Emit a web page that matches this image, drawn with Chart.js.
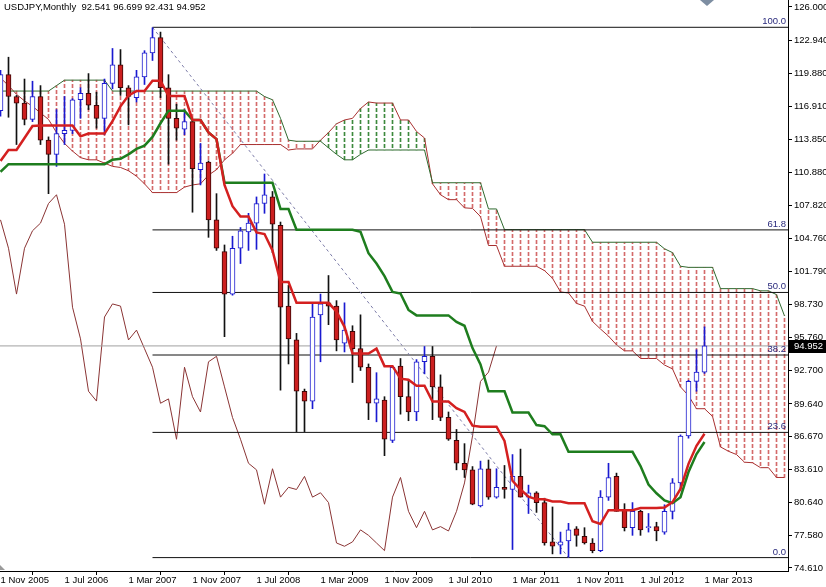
<!DOCTYPE html>
<html>
<head>
<meta charset="utf-8">
<title>USDJPY Monthly</title>
<script src="https://cdn.jsdelivr.net/npm/chart.js@4.4.1/dist/chart.umd.min.js"></script>
<style>
  html, body { margin: 0; padding: 0; background: #fff; }
  canvas { display: block; }
</style>
</head>
<body>
<canvas id="chart" width="826" height="587"></canvas>
<script>
// monthly candles, Nov 2005 .. Mar 2013 (index 0..88)
const opens = [116.5,119.8,117.8,117.2,115.7,117.8,113.8,112.5,114.4,114.7,117.5,118.1,117.0,115.8,119.0,120.7,118.6,117.7,119.6,121.8,
  123.2,118.6,115.8,114.8,115.5,111.1,111.8,106.5,103.6,99.7,103.9,105.4,106.2,108.0,108.6,106.0,98.6,95.5,90.8,89.9,
  97.8,98.9,98.6,95.2,96.3,94.7,93.0,89.7,90.0,86.3,93.1,90.3,88.9,93.5,94.0,91.2,88.4,86.3,84.2,83.6,
  80.3,83.7,81.1,82.0,81.8,83.0,81.1,81.5,80.6,77.0,76.7,77.1,78.2,77.5,76.9,76.2,81.1,83.0,79.9,78.3,
  79.8,78.3,78.4,77.9,79.8,82.4,86.7,91.7,92.541];
const highs = [120.2,121.4,117.9,119.4,119.2,118.8,114.1,116.6,117.8,117.6,118.6,119.9,118.2,119.4,122.2,122.1,118.8,120.2,122.0,124.1,
  123.7,119.8,117.1,116.6,115.6,113.5,111.9,108.9,104.2,105.0,105.8,107.1,108.6,110.7,109.1,106.3,100.5,96.1,91.0,98.8,
  99.7,101.4,99.1,98.9,96.8,97.8,93.3,92.5,90.3,93.1,93.8,91.8,93.7,94.9,94.9,92.3,88.9,87.3,86.0,83.9,
  84.4,84.5,83.7,84.0,85.0,85.5,82.2,81.6,81.0,80.2,77.9,78.7,78.4,78.3,77.3,81.7,84.2,83.3,80.5,80.6,
  79.9,79.6,78.8,80.4,82.8,86.8,91.8,94.6,96.699];
const lows = [116.0,115.9,113.4,115.2,115.5,113.4,108.9,111.4,113.4,114.4,115.8,116.6,114.9,114.3,118.5,117.9,115.2,117.3,118.9,121.1,
  117.7,111.6,113.8,114.3,107.2,109.7,104.9,103.7,95.8,99.6,102.5,103.7,103.8,107.1,103.5,90.9,93.3,87.1,87.1,89.2,
  93.5,96.9,94.5,94.4,91.6,92.7,88.2,88.0,84.9,86.1,88.7,88.1,88.1,92.4,88.2,88.1,86.3,83.6,82.9,80.4,
  80.2,80.9,81.0,81.0,76.3,81.1,79.6,79.7,76.7,75.9,75.9,75.6,76.6,76.8,76.0,76.1,80.8,79.8,78.0,77.6,
  77.6,77.9,77.1,77.7,79.1,81.7,86.5,90.8,92.431];
const closes = [119.8,117.8,117.2,115.7,117.8,113.8,112.5,114.4,114.7,117.5,118.1,117.0,115.8,119.0,120.7,118.6,117.8,119.6,121.8,123.2,
  118.6,115.8,114.9,115.5,111.2,111.7,106.5,103.9,99.7,103.9,105.5,106.2,108.0,108.8,106.1,98.5,95.6,90.8,89.9,97.6,
  98.8,98.6,95.5,96.4,94.7,93.0,89.7,90.1,86.4,93.0,90.3,88.9,93.5,94.0,91.2,88.4,86.4,84.2,83.6,80.45,
  83.7,81.1,82.0,81.8,83.0,81.1,81.5,80.6,76.9,76.6,77.0,78.1,77.6,76.9,76.2,81.1,82.9,79.8,78.3,79.8,
  78.1,78.4,78.0,79.8,82.4,86.7,91.7,92.55,94.952];

// ichimoku lines
const tenkan = [111.9,112.9,112.9,114.0,115.1,115.15,115.15,115.15,115.15,115.15,114.15,114.4,114.4,114.4,115.55,116.9,117.9,118.3,118.3,119.25,
  119.25,117.85,117.85,117.85,115.65,115.65,114.5,113.9,109.7,107.75,106.8,106.8,105.35,105.2,103.7,100.8,100.8,98.9,98.9,98.9,
  98.9,98.9,98.1,96.7,94.25,94.25,94.25,94.7,93.1,93.1,91.95,91.85,91.3,91.3,89.85,89.85,89.85,89.25,88.9,87.65,
  87.55,87.55,87.55,86.25,82.6,81.8,81.15,80.9,80.9,80.7,80.7,80.55,80.55,80.55,78.9,78.65,79.9,79.9,79.9,79.9,
  80.1,80.1,80.1,80.15,80.65,81.85,84.15,85.8,86.9];
const kijun = [110.9,111.6,111.6,111.6,111.6,111.6,111.6,111.6,111.6,111.6,111.6,111.6,111.6,111.6,112.0,112.1,112.5,113.0,113.3,114.1,
  115.35,116.5,116.5,116.5,115.65,115.65,114.5,113.9,109.9,109.9,109.9,109.9,109.9,109.9,109.9,107.5,107.5,105.6,105.6,105.6,
  105.6,105.6,105.6,105.6,105.6,105.4,103.45,102.5,101.35,99.9,99.75,98.25,97.75,97.75,97.75,97.75,97.75,97.15,96.8,94.75,
  93.25,90.8,90.8,90.8,88.85,88.85,88.85,87.7,87.6,86.85,86.85,85.25,85.25,85.25,85.25,85.25,85.25,85.25,85.25,85.25,
  83.95,82.25,81.45,80.8,80.55,81.1,83.4,85.05,86.15];
// cloud, index 0..98 (runs 10 months past the last candle)
const spanA = [119.5,118.8,118.0,117.4,116.9,116.3,115.7,114.5,113.5,112.8,112.2,112.0,112.0,111.7,111.4,111.3,111.0,110.5,109.8,109.0,
  109.0,109.0,109.0,109.5,109.7,109.8,110.6,111.1,112.0,112.6,113.4,113.4,113.4,113.4,113.4,113.4,112.9,113.0,113.0,113.0,
  113.8,114.5,115.3,115.65,115.8,116.7,117.3,117.2,117.2,117.2,115.65,115.65,114.6,114.0,109.8,108.8,108.35,108.35,107.6,107.55,
  106.8,104.15,104.15,102.25,102.25,102.25,102.25,102.25,101.85,101.15,99.9,99.8,98.85,98.6,97.2,96.5,95.85,95.05,94.5,94.5,
  93.8,93.8,93.8,93.2,92.85,91.2,90.4,89.2,89.2,88.5,85.7,85.3,85.0,84.3,84.25,83.8,83.8,82.9,82.9];
const spanB = [118.3,118.3,118.3,118.3,118.3,118.3,118.3,118.8,119.3,119.3,119.3,119.3,119.3,119.3,118.3,118.3,118.3,118.3,118.3,118.3,
  118.3,118.3,118.3,118.3,118.3,118.3,118.3,118.3,118.3,118.3,118.3,118.3,118.3,117.8,117.5,115.8,113.8,113.7,113.7,113.7,
  113.7,113.1,112.5,112.0,112.0,112.5,112.9,112.9,112.9,112.9,112.9,112.9,112.9,112.9,109.9,109.9,109.9,109.9,109.9,109.9,
  109.9,107.5,107.5,105.6,105.6,105.6,105.6,105.6,105.6,105.6,105.6,105.6,105.6,105.6,104.45,104.45,104.45,104.45,104.45,104.45,
  104.45,104.45,104.45,103.85,103.5,102.25,102.15,102.15,102.15,102.15,100.2,100.2,100.2,100.2,100.2,100.0,100.0,99.65,97.7];

const fibPrices = [124.14, 105.58, 99.85, 94.12, 87.03, 75.56];
const fibLabels = ['100.0', '61.8', '50.0', '38.2', '23.6', '0.0'];
const fibFrom = 19, fibTo = 71;   // Jun 2007 high -> Oct 2011 low

const xTickIdx = [0, 8, 16, 24, 32, 40, 48, 56, 64, 72, 80, 88];
const xTickLabels = ['1 Nov 2005', '1 Jul 2006', '1 Mar 2007', '1 Nov 2007', '1 Jul 2008', '1 Mar 2009',
  '1 Nov 2009', '1 Jul 2010', '1 Mar 2011', '1 Nov 2011', '1 Jul 2012', '1 Mar 2013'];
const yTickVals = [126.000, 122.940, 119.880, 116.910, 113.850, 110.880, 107.820, 104.760, 101.790,
  98.730, 95.760, 92.700, 89.640, 86.670, 83.610, 80.640, 77.580, 74.610];

const xMin = -0.0625, xMax = 98.4375;
const yMin = 74.333, yMax = 126.641;
const last = closes.length - 1;
const FONT = '"Liberation Sans", Arial, sans-serif';

const canvas = document.getElementById('chart');
const ctx = canvas.getContext('2d');

// vertical dashed hatch as a fill pattern for 1px bars
function dashPattern(color) {
  const c = document.createElement('canvas');
  c.width = 1; c.height = 6;
  const g = c.getContext('2d');
  g.fillStyle = color;
  g.fillRect(0, 0, 1, 4);
  return ctx.createPattern(c, 'repeat');
}
const redHatch = dashPattern('#d46a6a');
const greenHatch = dashPattern('#3d8a3d');

const pts = (arr, shift = 0) => arr.map((v, i) => ({ x: i + shift, y: v }));
const bull = closes.map((c, i) => c >= opens[i]);

const lineSet = (label, data, color, width, order, extra = {}) => Object.assign({
  type: 'line', label, data, borderColor: color, borderWidth: width,
  pointRadius: 0, tension: 0, fill: false, order
}, extra);

const datasets = [];

// kumo hatching
datasets.push({
  type: 'bar', label: 'kumo',
  data: spanA.map((a, j) => ({ x: j, y: [Math.min(a, spanB[j]), Math.max(a, spanB[j])] })),
  backgroundColor: spanA.map((a, j) => a < spanB[j] ? redHatch : greenHatch),
  barThickness: 1, grouped: false, order: 30
});
datasets.push(lineSet('Senkou A', pts(spanA), '#a83030', 1, 29));
datasets.push(lineSet('Senkou B', pts(spanB), '#2f6a2f', 1, 28));
// chikou: close shifted back 26 months
datasets.push(lineSet('Chikou', closes.slice(26).map((c, i) => ({ x: i, y: c })), '#8a3434', 1, 27));

// fibo lines
fibPrices.forEach((p, k) => {
  datasets.push(lineSet('fib ' + fibLabels[k], [{ x: fibFrom, y: p }, { x: xMax + 1, y: p }], '#111', 1, 26));
});
datasets.push(lineSet('fib trend', [{ x: fibFrom, y: fibPrices[0] }, { x: fibTo, y: fibPrices[5] }],
  '#7c7ca8', 1, 25, { borderDash: [3, 3] }));
// last price line
datasets.push(lineSet('bid', [{ x: xMin - 1, y: closes[last] }, { x: xMax + 1, y: closes[last] }], '#a0a0a0', 1, 24));

// candles
datasets.push({
  type: 'bar', label: 'wicks',
  data: highs.map((h, i) => ({ x: i, y: [lows[i], h] })),
  backgroundColor: bull.map(b => b ? '#1a1ad0' : '#111'),
  barThickness: 1, grouped: false, order: 11
});
datasets.push({
  type: 'bar', label: 'bodies',
  data: opens.map((o, i) => ({ x: i, y: [o, closes[i]] })),
  backgroundColor: bull.map(b => b ? '#ffffff' : '#cc1f1f'),
  borderColor: bull.map(b => b ? '#1a1ad0' : '#3a0606'),
  borderWidth: 1, borderSkipped: false, minBarLength: 1,
  barThickness: 5, grouped: false, order: 10
});

datasets.push(lineSet('Kijun', pts(kijun), '#1e7d1e', 2.5, 2));
datasets.push(lineSet('Tenkan', pts(tenkan), '#d42020', 2.5, 1));

const overlay = {
  id: 'overlay',
  afterDatasetsDraw(chart) {
    const c = chart.ctx, y = chart.scales.y, area = chart.chartArea;
    c.save();
    c.font = '9.5px ' + FONT;
    c.fillStyle = '#2a2a7c';
    c.textAlign = 'right';
    c.textBaseline = 'bottom';
    fibPrices.forEach((p, k) => c.fillText(fibLabels[k], area.right - 2, Math.round(y.getPixelForValue(p)) - 1));
    c.fillStyle = '#000';
    c.textAlign = 'left';
    c.textBaseline = 'top';
    const ohlc = [opens[last], highs[last], lows[last], closes[last]].map(v => v.toFixed(3)).join(' ');
    c.fillText('USDJPY,Monthly  ' + ohlc, 4, 3);
    c.restore();
  },
  afterDraw(chart) {
    const c = chart.ctx, area = chart.chartArea;
    const py = Math.round(chart.scales.y.getPixelForValue(closes[last]));
    c.save();
    c.fillStyle = '#000';
    c.fillRect(area.right + 1, py - 6, 40, 13);
    c.fillStyle = '#fff';
    c.font = '9.5px ' + FONT;
    c.textAlign = 'left';
    c.textBaseline = 'middle';
    c.fillText(closes[last].toFixed(3), area.right + 6, py + 0.5);
    // chart shift marker and corner arrow
    c.fillStyle = '#7d8ea2';
    c.beginPath();
    c.moveTo(700, 0); c.lineTo(714, 0); c.lineTo(707, 6); c.closePath();
    c.fill();
    c.fillStyle = '#9a9a9a';
    c.beginPath();
    c.moveTo(0, area.bottom - 6); c.lineTo(5, area.bottom - 1); c.lineTo(0, area.bottom - 1); c.closePath();
    c.fill();
    c.restore();
  }
};

Chart.defaults.font.family = FONT;
Chart.defaults.font.size = 9.5;
Chart.defaults.color = '#000';

new Chart(ctx, {
  type: 'bar',
  data: { datasets },
  options: {
    responsive: false,
    animation: false,
    devicePixelRatio: 1,
    layout: { padding: 0 },
    plugins: { legend: { display: false }, tooltip: { enabled: false } },
    scales: {
      x: {
        type: 'linear', position: 'bottom', min: xMin, max: xMax, offset: false,
        grid: { drawOnChartArea: false, drawTicks: true, tickLength: 4, color: '#000' },
        border: { display: true, color: '#000' },
        ticks: { autoSkip: false, maxRotation: 0, minRotation: 0, align: 'start', padding: 0,
          callback: (v, i) => xTickLabels[i] },
        afterBuildTicks: s => { s.ticks = xTickIdx.map(v => ({ value: v })); },
        afterFit: s => { s.height = 16; s.paddingLeft = 0; s.paddingRight = 0; }
      },
      y: {
        type: 'linear', position: 'right', min: yMin, max: yMax,
        grid: { drawOnChartArea: false, drawTicks: true, tickLength: 4, color: '#000' },
        border: { display: true, color: '#000' },
        ticks: { padding: 2, callback: (v, i) => yTickVals[i].toFixed(3) },
        afterBuildTicks: s => { s.ticks = yTickVals.map(v => ({ value: v })); },
        afterFit: s => { s.width = 38; s.paddingTop = 0; s.paddingBottom = 0; }
      }
    }
  },
  plugins: [overlay]
});
</script>
</body>
</html>
